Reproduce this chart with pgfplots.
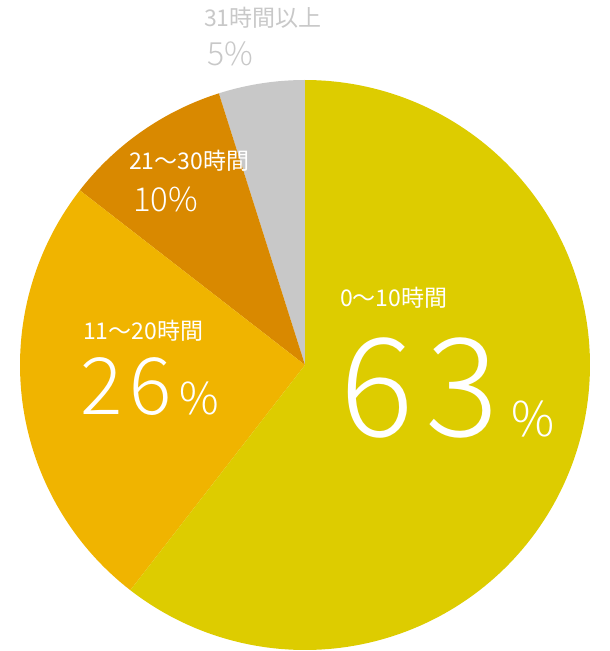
\documentclass[border=0pt]{standalone}
\usepackage{pgfplots}
\pgfplotsset{compat=1.18}
\usepackage{fontspec}
\setmainfont{Noto Sans CJK JP}
\newfontfamily\lightfont{Noto Sans CJK JP Light}
\definecolor{cA}{RGB}{221,204,0}
\definecolor{cB}{RGB}{240,180,0}
\definecolor{cC}{RGB}{217,137,0}
\definecolor{cD}{RGB}{200,200,200}
\definecolor{txtgray}{RGB}{200,200,200}
% shares (percent of the full circle), drawn counter-clockwise from 12 o'clock:
% 31h+ = 4.9, 21-30h = 9.6, 11-20h = 25.0, 0-10h = 60.5
\def\cx{305}\def\cy{286}\def\R{285}
\begin{document}
\begin{tikzpicture}
\begin{axis}[x=1pt,y=1pt,xmin=0,xmax=610,ymin=0,ymax=651,hide axis,
  scale only axis,clip=false]
\path[draw=none] (rel axis cs:0,0) rectangle (rel axis cs:1,1);
% 31 hours or more: 4.9 % -> 90 .. 107.6
\addplot[fill=cD,draw=none,domain=90:107.6,samples=30,variable=\t]
  ({\cx+\R*cos(\t)},{\cy+\R*sin(\t)}) -- (axis cs:\cx,\cy) -- cycle;
% 21-30 hours: 9.6 % -> 107.6 .. 142.2
\addplot[fill=cC,draw=none,domain=107.6:142.2,samples=40,variable=\t]
  ({\cx+\R*cos(\t)},{\cy+\R*sin(\t)}) -- (axis cs:\cx,\cy) -- cycle;
% 11-20 hours: 25.0 % -> 142.2 .. 232.2
\addplot[fill=cB,draw=none,domain=142.2:232.2,samples=80,variable=\t]
  ({\cx+\R*cos(\t)},{\cy+\R*sin(\t)}) -- (axis cs:\cx,\cy) -- cycle;
% 0-10 hours: 60.5 % -> 232.2 .. 450
\addplot[fill=cA,draw=none,domain=232.2:450,samples=160,variable=\t]
  ({\cx+\R*cos(\t)},{\cy+\R*sin(\t)}) -- (axis cs:\cx,\cy) -- cycle;

\node[anchor=base west,inner sep=0,text=txtgray,font=\fontsize{23}{23}\selectfont] at (axis cs:204,624) {31時間以上};
\node[anchor=base west,inner sep=0,text=txtgray,font=\lightfont\fontsize{32}{32}\selectfont] at (axis cs:207,585) {5\%};

\node[anchor=base west,inner sep=0,text=white,font=\fontsize{23}{23}\selectfont] at (axis cs:129,481) {21〜30時間};
\node[anchor=base west,inner sep=0,text=white,font=\lightfont\fontsize{33}{33}\selectfont] at (axis cs:133,439) {10\%};

\node[anchor=base west,inner sep=0,text=white,font=\fontsize{23}{23}\selectfont] at (axis cs:83,311) {11〜20時間};
\node[anchor=base west,inner sep=0,text=white,font=\lightfont\fontsize{79}{79}\selectfont] at (axis cs:80,236) {2\hspace{7pt}6};
\node[anchor=base west,inner sep=0,text=white,font=\lightfont\fontsize{44}{44}\selectfont] at (axis cs:179,236) {\%};

\node[anchor=base west,inner sep=0,text=white,font=\fontsize{23}{23}\selectfont] at (axis cs:340,344) {0〜10時間};
\node[anchor=base west,inner sep=0,text=white,font=\lightfont\fontsize{137}{137}\selectfont] at (axis cs:340,214) {6\hspace{12pt}3};
\node[anchor=base west,inner sep=0,text=white,font=\lightfont\fontsize{48}{48}\selectfont] at (axis cs:511,214) {\%};
\end{axis}
\end{tikzpicture}
\end{document}
